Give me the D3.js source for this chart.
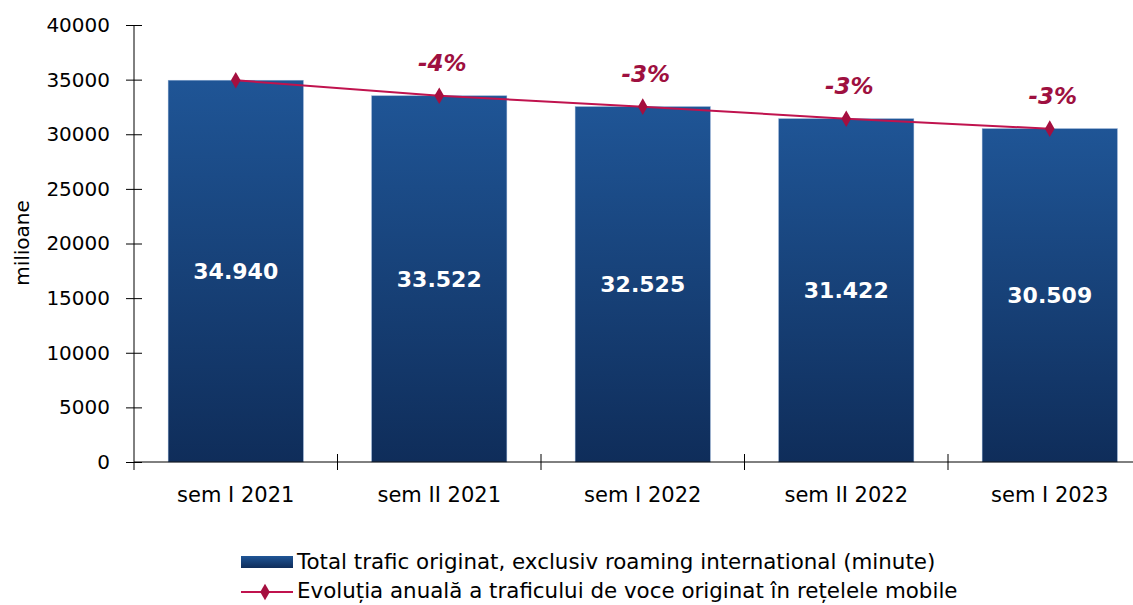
<!DOCTYPE html>
<html><head><meta charset="utf-8">
<script src="https://cdn.jsdelivr.net/npm/d3@7/dist/d3.min.js"></script>
<style>
html,body{margin:0;padding:0;background:#fff;}
svg{display:block;}
text{font-family:"DejaVu Sans",sans-serif;}
</style></head>
<body>
<svg id="chart" width="1133" height="605"></svg>
<script>
const categories = ["sem I 2021","sem II 2021","sem I 2022","sem II 2022","sem I 2023"];
const trafficValues = [34940, 33522, 32525, 31422, 30509];
const valueLabels = ["34.940","33.522","32.525","31.422","30.509"];
const changeLabels = ["", "-4%", "-3%", "-3%", "-3%"];
const yTicks = [0,5000,10000,15000,20000,25000,30000,35000,40000];
const legendLabels = ["Total trafic originat, exclusiv roaming international (minute)",
  "Evoluția anuală a traficului de voce originat în rețelele mobile"];

const FONT = '"DejaVu Sans",sans-serif';
const svg = d3.select("#chart");
const defs = svg.append("defs");
const grad = defs.append("linearGradient").attr("id","barGrad").attr("x1",0).attr("y1",0).attr("x2",0).attr("y2",1);
grad.append("stop").attr("offset","0%").attr("stop-color","#1f5596");
grad.append("stop").attr("offset","100%").attr("stop-color","#0f2d5a");

const x0 = 134, yTop = 25, yBot = 462;
const x = d3.scaleBand().domain(categories).range([x0, x0 + 5*203.5]).paddingInner(0.336).paddingOuter(0.168);
const y = d3.scaleLinear().domain([0,40000]).range([yBot, yTop]);

// bars
svg.append("g").selectAll("rect").data(trafficValues).join("rect")
  .attr("x",(d,i)=>x(categories[i]))
  .attr("y",d=>y(d))
  .attr("width",x.bandwidth())
  .attr("height",d=>y(0)-y(d))
  .attr("fill","url(#barGrad)")
  .attr("stroke","#7f9fcc").attr("stroke-width",0.6).attr("stroke-opacity",0.7);

// value labels
svg.append("g").selectAll("text").data(trafficValues).join("text")
  .attr("x",(d,i)=>x(categories[i])+x.bandwidth()/2)
  .attr("y",d=>(y(d)+y(0))/2)
  .attr("dy","0.36em")
  .attr("text-anchor","middle")
  .attr("fill","#fff").attr("font-weight","bold").attr("font-size","22px")
  .text((d,i)=>valueLabels[i]);

// y axis
const yAxis = d3.axisLeft(y).tickValues(yTicks).tickSize(8).tickFormat(d3.format("d"));
const gy = svg.append("g").attr("transform",`translate(${x0},0)`).call(yAxis);
gy.select(".domain").remove();
gy.selectAll(".tick line").attr("x1",-8).attr("x2",8).attr("stroke","#000");
gy.selectAll(".tick text").attr("x",-24).attr("font-size","20px").attr("fill","#000")
  .style("font-family",FONT);
svg.append("line").attr("x1",x0).attr("x2",x0).attr("y1",yTop).attr("y2",470).attr("stroke","#000");

// x axis
svg.append("line").attr("x1",x0).attr("x2",1133).attr("y1",yBot).attr("y2",yBot).attr("stroke","#000");
const boundaries = categories.map(c=>x(c)-x.step()*x.paddingInner()/2).slice(1);
svg.append("g").selectAll("line").data(boundaries).join("line")
  .attr("x1",d=>d).attr("x2",d=>d).attr("y1",yBot-8).attr("y2",yBot+8).attr("stroke","#000");
const xAxis = d3.axisBottom(x).tickSize(0).tickPadding(0);
const gx = svg.append("g").attr("transform",`translate(0,${yBot})`).call(xAxis);
gx.select(".domain").remove();
gx.selectAll(".tick text").attr("y",40).attr("dy",0).attr("font-size","21px").attr("fill","#000")
  .style("font-family",FONT);

// y label
svg.append("text").attr("transform",`translate(29,243) rotate(-90)`)
  .attr("text-anchor","middle").attr("font-size","20px").attr("fill","#000").text("milioane");

// line
const lineColor = "#c0134e";
const line = d3.line().x((d,i)=>x(categories[i])+x.bandwidth()/2).y(d=>y(d));
svg.append("path").datum(trafficValues).attr("d",line).attr("fill","none").attr("stroke",lineColor).attr("stroke-width",2);
const diamond = d3.symbol().type(d3.symbolDiamond).size(80);
svg.append("g").selectAll("path").data(trafficValues).join("path")
  .attr("d",diamond)
  .attr("transform",(d,i)=>`translate(${x(categories[i])+x.bandwidth()/2},${y(d)})`)
  .attr("fill","#a50f3f");

// change labels
svg.append("g").selectAll("text").data(trafficValues).join("text")
  .attr("x",(d,i)=>x(categories[i])+x.bandwidth()/2+3)
  .attr("y",d=>y(d)-25)
  .attr("text-anchor","middle")
  .attr("fill","#9e1040").attr("font-weight","bold").attr("font-style","italic").attr("font-size","23px")
  .text((d,i)=>changeLabels[i]);

// legend
const lg = svg.append("g");
lg.append("rect").attr("x",241).attr("y",556).attr("width",52).attr("height",12).attr("fill","url(#barGrad)");
lg.append("text").attr("x",297).attr("y",569).attr("font-size","21.4px").attr("fill","#000").text(legendLabels[0]);
lg.append("line").attr("x1",241).attr("x2",293).attr("y1",592).attr("y2",592).attr("stroke",lineColor).attr("stroke-width",2);
lg.append("path").attr("d",diamond).attr("transform","translate(265,592)").attr("fill","#a50f3f");
lg.append("text").attr("x",297).attr("y",598).attr("font-size","21.4px").attr("fill","#000").text(legendLabels[1]);
</script>
</body></html>
